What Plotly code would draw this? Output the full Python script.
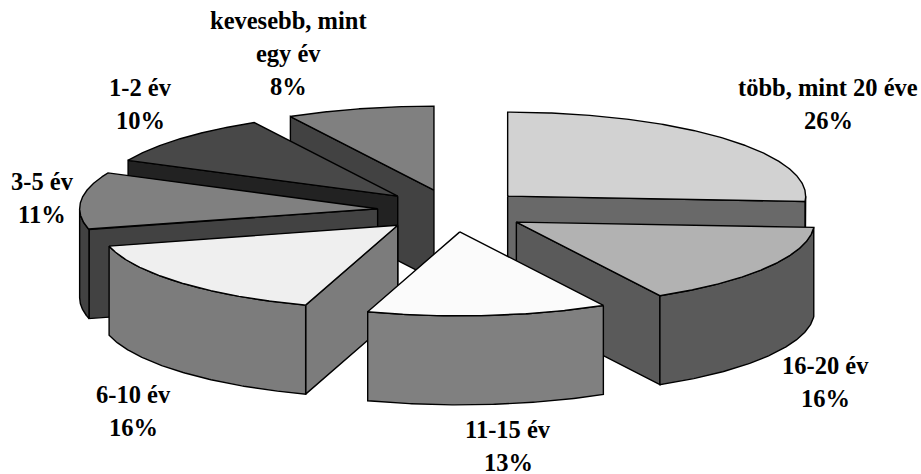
import numpy as np
import plotly.graph_objects as go

categories = ["több, mint 20 éve", "16-20 év", "11-15 év", "6-10 év", "3-5 év", "1-2 év", "kevesebb, mint egy év"]
values = [26, 16, 13, 16, 11, 10, 8]
label_lines = [["több, mint 20 éve", "26%"], ["16-20 év", "16%"], ["11-15 év", "13%"], ["6-10 év", "16%"],
               ["3-5 év", "11%"], ["1-2 év", "10%"], ["kevesebb, mint", "egy év", "8%"]]

top_colors = ["#d2d2d2", "#b2b2b2", "#fbfbfb", "#efefef", "#808080", "#484848", "#808080"]
side_colors = ["#696969", "#5a5a5a", "#808080", "#7c7c7c", "#424242", "#222222", "#424242"]
label_pos = [(828, 87), (825, 365), (508, 429), (133, 394), (42, 181), (140, 87), (288, 20)]
LINE_GAP = 33
FONT_SIZE = 24.5

# projection of the pie
CX, CY = 452.7, 210.7
RX, RY = 298.0, 84.0
DEPTH = 89.0
EXPLODE = 0.253


def project(cx, cy, deg):
    a = np.radians(deg)
    return cx + RX * np.sin(a), cy - RY * np.cos(a)


fig = go.Figure()


def poly(xs, ys, fill):
    fig.add_trace(go.Scatter(x=list(xs), y=list(ys), mode="lines", fill="toself", fillcolor=fill,
                             line=dict(color="#000000", width=1.4), hoverinfo="skip", showlegend=False))


total = sum(values)
edges = np.concatenate([[0], np.cumsum(values)]) / total * 360.0
slices = []
for i in range(len(values)):
    a, b = edges[i], edges[i + 1]
    mid = (a + b) / 2
    m = np.radians(mid)
    ax = CX + EXPLODE * RX * np.sin(m)
    ay = CY - EXPLODE * RY * np.cos(m)
    slices.append((ay, i, a, b, ax))

for ay, i, a, b, ax in sorted(slices):
    side, top = side_colors[i], top_colors[i]
    # flat radial faces turned toward the viewer
    for deg, show in ((a, np.sin(np.radians(a)) < -1e-6), (b, np.sin(np.radians(b)) > 1e-6)):
        if show:
            px, py = project(ax, ay, deg)
            poly([ax, px, px, ax, ax], [ay, py, py + DEPTH, ay + DEPTH, ay], side)
    # curved outer wall, front half only
    lo, hi = max(a, 90.0), min(b, 270.0)
    if hi > lo:
        t = np.linspace(lo, hi, 120)
        px, py = project(ax, ay, t)
        poly(np.r_[px, px[::-1], px[0]], np.r_[py, py[::-1] + DEPTH, py[0]], side)
    # top face
    t = np.linspace(a, b, 200)
    px, py = project(ax, ay, t)
    poly(np.r_[ax, px, ax], np.r_[ay, py, ay], top)

annotations = []
for lines, (lx, ly) in zip(label_lines, label_pos):
    for k, line in enumerate(lines):
        annotations.append(dict(x=lx, y=ly + k * LINE_GAP, text="<b>%s</b>" % line, showarrow=False,
                                xanchor="center", yanchor="middle", xref="x", yref="y",
                                font=dict(family="Liberation Serif", size=FONT_SIZE, color="#000000")))

fig.update_layout(
    width=921, height=474, margin=dict(l=0, r=0, t=0, b=0),
    paper_bgcolor="#ffffff", plot_bgcolor="#ffffff", showlegend=False, annotations=annotations,
    xaxis=dict(range=[0, 921], visible=False, fixedrange=True),
    yaxis=dict(range=[474, 0], visible=False, fixedrange=True),
)
fig.write_html("out.html", config=dict(displayModeBar=False),
               post_script="document.body.style.margin='0';document.documentElement.style.overflow='hidden';")
